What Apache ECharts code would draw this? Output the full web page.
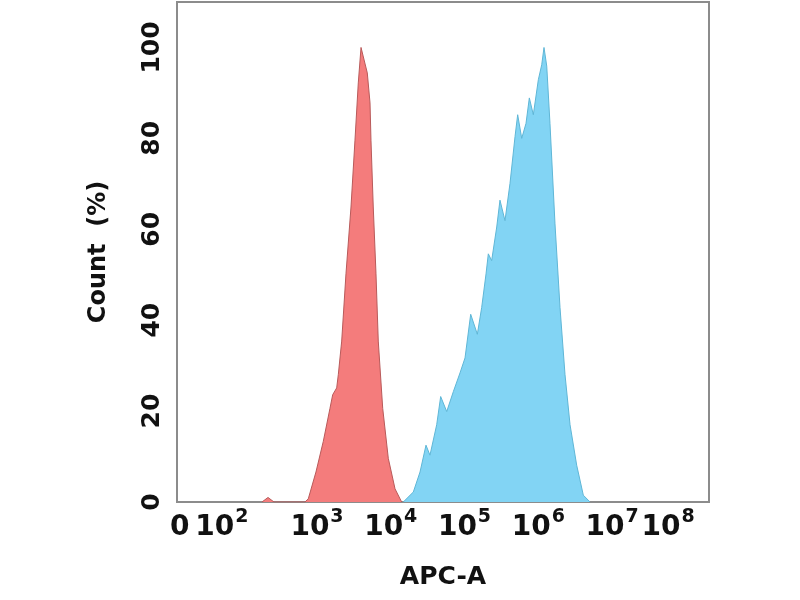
<!DOCTYPE html>
<html>
<head>
<meta charset="utf-8">
<script src="https://cdn.jsdelivr.net/npm/echarts@6/dist/echarts.min.js"></script>
<style>
html,body{margin:0;padding:0;background:#fff;}
#chart{width:800px;height:600px;}
</style>
</head>
<body>
<div id="chart"></div>
<script>
// x values are in display "decade" units of the (biexponential) APC-A axis
const xTickValues = [1.14, 1.71, 3, 4, 5, 6, 7, 7.76];
const xTickBase   = ['0', '10', '10', '10', '10', '10', '10', '10'];
const xTickExp    = ['',  '2',  '3',  '4',  '5',  '6',  '7',  '8'];
const yTickValues = [0, 20, 40, 60, 80, 100];

const redX = [2.254, 2.336, 2.417, 2.837, 2.882, 2.986, 3.085, 3.176, 3.213, 3.267, 3.289, 3.335, 3.393, 3.461, 3.515, 3.560, 3.597, 3.682, 3.719, 3.732, 3.763, 3.800, 3.831, 3.891, 3.967, 4.058, 4.148];
const redY = [0, 1.0, 0, 0, 0.7, 6.6, 13.3, 20.6, 23.6, 25.1, 28.0, 35.4, 50.2, 64.9, 79.6, 92.2, 100, 94.4, 87.8, 79.6, 64.9, 50.2, 35.4, 20.6, 9.6, 2.9, 0];

const blueX = [4.170, 4.306, 4.397, 4.478, 4.532, 4.623, 4.677, 4.759, 4.849, 4.939, 5.007, 5.084, 5.174, 5.233, 5.292, 5.323, 5.368, 5.437, 5.481, 5.549, 5.617, 5.685, 5.721, 5.776, 5.834, 5.879, 5.933, 6.001, 6.047, 6.078, 6.115, 6.159, 6.227, 6.295, 6.363, 6.431, 6.521, 6.611, 6.702];
const blueY = [0, 2.2, 6.6, 12.5, 10.3, 17.0, 23.2, 19.9, 24.3, 28.4, 31.7, 41.3, 36.9, 42.8, 50.2, 54.6, 53.1, 60.5, 66.4, 61.9, 70.1, 80.4, 85.2, 80.0, 83.3, 88.9, 85.2, 92.9, 96.2, 100, 95.9, 83.3, 61.2, 42.8, 28.0, 17.0, 8.1, 1.5, 0];

const xAxisName = 'APC-A';
const yAxisName = 'Count  (%)';

const zip = (xs, ys) => xs.map((x, i) => [x, ys[i]]);

const chart = echarts.init(document.getElementById('chart'));
const FONT = 'DejaVu Sans';
chart.setOption({
  animation: false,
  backgroundColor: '#ffffff',
  grid: {left: 177, right: 91, top: 2, bottom: 98, show: true, borderColor: '#8c8c8c', borderWidth: 2},
  xAxis: {
    type: 'value', min: 1.102, max: 8.315,
    name: xAxisName, nameLocation: 'middle', nameGap: 63,
    nameTextStyle: {fontFamily: FONT, fontWeight: 'bold', fontSize: 25, color: '#111'},
    axisLine: {show: true, lineStyle: {color: '#8c8c8c', width: 2}},
    axisTick: {show: false},
    splitLine: {show: false},
    axisLabel: {
      customValues: xTickValues,
      margin: 6,
      formatter: function (v) {
        let i = xTickValues.findIndex(t => Math.abs(t - v) < 1e-6);
        if (i < 0) return '';
        return xTickExp[i] ? '{b|' + xTickBase[i] + '}{s|' + xTickExp[i] + '}' : '{b|' + xTickBase[i] + '}';
      },
      rich: {
        b: {fontFamily: FONT, fontWeight: 'bold', fontSize: 28, color: '#111', lineHeight: 34, verticalAlign: 'bottom'},
        s: {fontFamily: FONT, fontWeight: 'bold', fontSize: 19, color: '#111', lineHeight: 34, verticalAlign: 'top', padding: [0, 0, 14, 1]}
      }
    }
  },
  yAxis: {
    type: 'value', min: 0, max: 110,
    name: yAxisName, nameLocation: 'middle', nameGap: 66,
    nameTextStyle: {fontFamily: FONT, fontWeight: 'bold', fontSize: 24, color: '#111'},
    axisLine: {show: true, lineStyle: {color: '#8c8c8c', width: 2}},
    axisTick: {show: false},
    splitLine: {show: false},
    axisLabel: {
      customValues: yTickValues,
      rotate: 90, margin: 12,
      fontFamily: FONT, fontWeight: 'bold', fontSize: 25, color: '#111'
    }
  },
  series: [
    {
      type: 'line', data: zip(redX, redY), symbol: 'none', smooth: false,
      lineStyle: {color: '#b85a5a', width: 1},
      areaStyle: {color: '#f47c7c', opacity: 1}
    },
    {
      type: 'line', data: zip(blueX, blueY), symbol: 'none', smooth: false,
      lineStyle: {color: '#5fb6d6', width: 1},
      areaStyle: {color: '#82d4f4', opacity: 1}
    }
  ]
});
</script>
</body>
</html>
